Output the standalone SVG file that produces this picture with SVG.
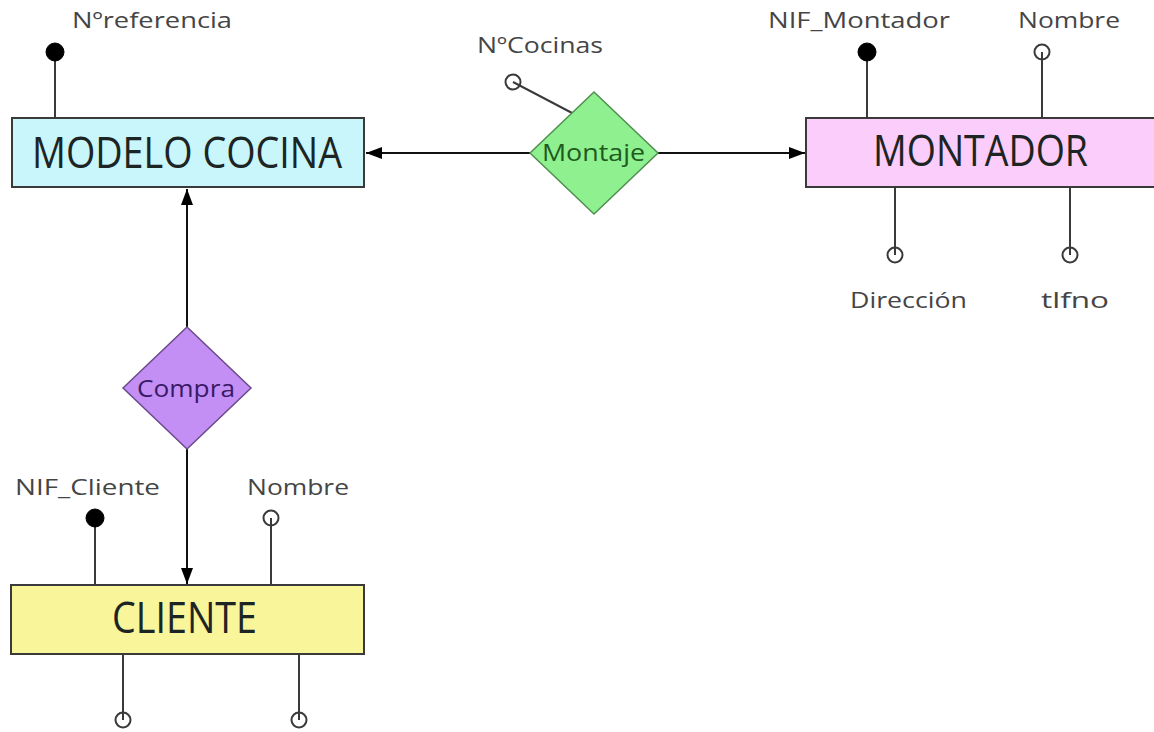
<svg xmlns="http://www.w3.org/2000/svg" width="1154" height="732" viewBox="0 0 1154 732">
<defs>
<style>
.ent{stroke:#3a3a3a;stroke-width:2}
.big{font-family:"Open Sans","Liberation Sans",sans-serif;font-size:44px;fill:#1c2424}
.lbl{font-family:"Open Sans","Liberation Sans",sans-serif;font-size:22px;fill:#454545}
.rel{font-family:"Open Sans","Liberation Sans",sans-serif;font-size:24px}
.ln{stroke:#3a3a3a;stroke-width:2;fill:none}
.key{fill:#000;stroke:#000;stroke-width:1}
.att{fill:none;stroke:#3a3a3a;stroke-width:2}
.con{stroke:#111;stroke-width:2;fill:none}
</style>
<marker id="arr" viewBox="0 0 16 12" refX="16" refY="6" markerWidth="16" markerHeight="12" markerUnits="userSpaceOnUse" orient="auto">
<path d="M0,0 L16,6 L0,12 z" fill="#000"/>
</marker>
</defs>
<rect width="1154" height="732" fill="#fff"/>

<g id="connectors">
<line class="con" x1="530" y1="153" x2="366" y2="153" marker-end="url(#arr)"/>
<line class="con" x1="658" y1="153" x2="805" y2="153" marker-end="url(#arr)"/>
<line class="con" x1="187" y1="327" x2="187" y2="189" marker-end="url(#arr)"/>
<line class="con" x1="187" y1="449" x2="187" y2="584" marker-end="url(#arr)"/>
</g>

<g id="modelo-cocina">
<line class="ln" x1="55" y1="52" x2="55" y2="118"/>
<circle class="key" cx="55" cy="52" r="9"/>
<text class="lbl" x="72" y="28" textLength="160" lengthAdjust="spacingAndGlyphs">Nºreferencia</text>
<rect class="ent" x="12" y="118" width="352" height="69" fill="#c8f6fb"/>
<text class="big" x="32" y="168" textLength="310" lengthAdjust="spacingAndGlyphs">MODELO COCINA</text>
</g>

<g id="montaje">
<line class="ln" x1="513" y1="82" x2="574" y2="114"/>
<circle class="att" cx="513" cy="82" r="7.5"/>
<text class="lbl" x="477" y="53" textLength="126" lengthAdjust="spacingAndGlyphs">NºCocinas</text>
<polygon points="530,153 594,92 658,153 594,214" fill="#8ef08e" stroke="#4f8f4f" stroke-width="1.5"/>
<text class="rel" x="542" y="161" fill="#1f5a1f" textLength="103" lengthAdjust="spacingAndGlyphs">Montaje</text>
</g>

<g id="montador">
<line class="ln" x1="867" y1="52" x2="867" y2="118"/>
<circle class="key" cx="867" cy="52" r="9"/>
<text class="lbl" x="768" y="28" textLength="182" lengthAdjust="spacingAndGlyphs">NIF_Montador</text>
<line class="ln" x1="1042" y1="52" x2="1042" y2="118"/>
<circle class="att" cx="1042" cy="52" r="7.5"/>
<text class="lbl" x="1018" y="28" textLength="102" lengthAdjust="spacingAndGlyphs">Nombre</text>
<rect class="ent" x="806" y="118" width="352" height="69" fill="#fbcdfa"/>
<text class="big" x="873" y="166" textLength="215" lengthAdjust="spacingAndGlyphs">MONTADOR</text>
<line class="ln" x1="895" y1="187" x2="895" y2="255"/>
<circle class="att" cx="895" cy="255" r="7.5"/>
<text class="lbl" x="850" y="308" textLength="117" lengthAdjust="spacingAndGlyphs">Dirección</text>
<line class="ln" x1="1070" y1="187" x2="1070" y2="255"/>
<circle class="att" cx="1070" cy="255" r="7.5"/>
<text class="lbl" x="1041" y="308" textLength="68" lengthAdjust="spacingAndGlyphs">tlfno</text>
</g>

<g id="compra">
<polygon points="123,388 187,327 251,388 187,449" fill="#c38ff5" stroke="#6a4a8a" stroke-width="1.5"/>
<text class="rel" x="137" y="397" fill="#3a1a66" textLength="98" lengthAdjust="spacingAndGlyphs">Compra</text>
</g>

<g id="cliente">
<line class="ln" x1="95" y1="518" x2="95" y2="585"/>
<circle class="key" cx="95" cy="518" r="9"/>
<text class="lbl" x="15" y="495" textLength="145" lengthAdjust="spacingAndGlyphs">NIF_Cliente</text>
<line class="ln" x1="271" y1="518" x2="271" y2="585"/>
<circle class="att" cx="271" cy="518" r="7.5"/>
<text class="lbl" x="247" y="495" textLength="102" lengthAdjust="spacingAndGlyphs">Nombre</text>
<rect class="ent" x="11" y="585" width="353" height="69" fill="#f9f59a"/>
<text class="big" x="112" y="633" textLength="145" lengthAdjust="spacingAndGlyphs">CLIENTE</text>
<line class="ln" x1="123" y1="654" x2="123" y2="720"/>
<circle class="att" cx="123" cy="720" r="7.5"/>
<line class="ln" x1="299" y1="654" x2="299" y2="720"/>
<circle class="att" cx="299" cy="720" r="7.5"/>
</g>
</svg>
